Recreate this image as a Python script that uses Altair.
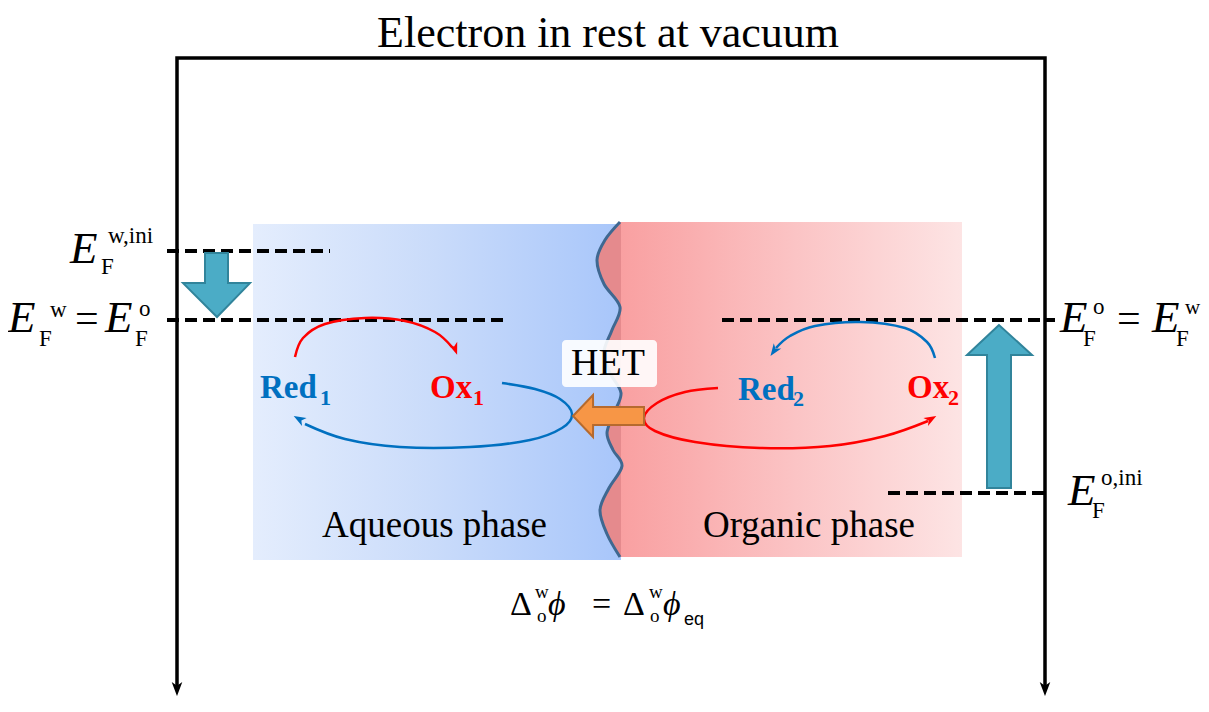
import altair as alt
import pandas as pd

# ---------------- data (diagram geometry in image pixels) ----------------
TITLE = "Electron in rest at vacuum"

# phase panels
AQ_BOX = [253, 621, 224, 560]          # x1, x2, y1, y2
OR_BOX = [621, 962, 222, 557]
AQ_COLORS = ["#e4edfd", "#c9dbfa", "#a8c6fa"]
OR_COLORS = ["#f9a0a1", "#fbc3c4", "#fde4e4"]

# liquid/liquid interface
WAVE_Y = [222, 240, 260, 284, 307, 330, 352, 373, 393, 413, 433, 450, 466, 488, 510, 534, 557]
WAVE_X = [620, 605, 597, 604, 620, 612, 604, 610, 621, 614, 607, 613, 622, 609, 600, 607, 620]

# Fermi levels (dashed)
LEVEL_Y = [251, 320, 320, 493]
LEVEL_X1 = [167, 167, 722, 888]
LEVEL_X2 = [330, 505, 1055, 1050]

# vacuum frame
FRAME_X = [177, 177, 1045, 1045]
FRAME_Y = [688, 58, 58, 688]

# teal level-shift arrows
DOWN_Y = [253, 283, 283.1, 317]
DOWN_XL = [205, 205, 183, 217]
DOWN_XR = [228, 228, 250, 217]
UP_Y = [325, 355, 355.1, 488]
UP_XL = [999, 967, 987, 987]
UP_XR = [999, 1032, 1011, 1011]

# HET arrow
HET_X = [573, 593, 593.1, 644]
HET_YT = [416, 395, 407, 407]
HET_YB = [416, 437, 425, 425]
HET_BOX = [562, 657, 340, 387]

# redox cycle curves
C1_X = [295, 303, 325, 365, 405, 435, 452]
C1_Y = [357, 338, 324, 318, 321, 332, 347]
C2_X = [502, 535, 560, 572, 562, 530, 470, 400, 345, 305]
C2_Y = [383, 389, 399, 414, 428, 440, 447, 447, 439, 424]
C3_X = [935, 927, 905, 860, 815, 790, 776]
C3_Y = [358, 342, 328, 322, 326, 336, 348]
C4_X = [718, 685, 657, 644, 655, 695, 760, 830, 885, 928]
C4_Y = [388, 392, 403, 418, 431, 442, 448, 446, 436, 421]
BLUE = "#0070c0"
RED = "#ff0000"

# arrow heads
HEAD_X = [455, 299, 774, 931, 177, 1045]
HEAD_Y = [349, 419, 351, 419, 689, 689]
HEAD_ANGLE = [160, 300, 215, 60, 180, 180]
HEAD_SIZE = [150, 150, 150, 150, 200, 200]
HEAD_COLOR = [RED, BLUE, BLUE, RED, "#000000", "#000000"]

# texts
IT_TEXT = ["E", "E", "E", "E", "E", "E", "ϕ", "ϕ"]
IT_X = [70, 8, 105, 1060, 1152, 1068, 548, 663]
IT_Y = [263, 332, 332, 332, 332, 505, 615, 615]
IT_SIZE = [45, 45, 45, 45, 45, 45, 34, 34]

REG_TEXT = ["w,ini", "F", "w", "F", "=", "o", "F", "o", "F", "=", "w", "F",
            "o,ini", "F", "Aqueous phase", "Organic phase",
            "Δ", "w", "o", "=", "Δ", "w", "o"]
REG_X = [108, 101, 50, 39, 75, 139, 135, 1093, 1083, 1117, 1185, 1176,
         1101, 1092, 322, 703, 510, 535, 537, 592, 623, 649, 650]
REG_Y = [243, 274, 317, 346, 332, 316, 346, 314, 346, 332, 314, 346,
         485, 518, 537, 537, 615, 598, 622, 615, 615, 598, 622]
REG_SIZE = [23, 23, 23, 23, 42, 23, 23, 23, 23, 42, 21, 23,
            23, 23, 37, 37, 34, 19, 19, 34, 34, 19, 19]

BOLD_TEXT = ["Red", "1", "Ox", "1", "Red", "2", "Ox", "2"]
BOLD_X = [260, 320, 430, 473, 738, 793, 907, 948]
BOLD_Y = [398, 405, 398, 405, 400, 406, 398, 405]
BOLD_SIZE = [33, 22, 33, 22, 33, 22, 33, 22]
BOLD_COLOR = [BLUE, BLUE, RED, RED, BLUE, BLUE, RED, RED]

CTR_TEXT = [TITLE, "HET"]
CTR_X = [608, 608]
CTR_Y = [47, 375]
CTR_SIZE = [44, 38]

SANS_TEXT = ["eq"]
SANS_X = [684]
SANS_Y = [625]
SANS_SIZE = [18]

# ---------------- chart ----------------
W, H = 1193, 688
X0, Y0 = 8, 8
xs = alt.Scale(domain=[X0, X0 + W], nice=False, zero=False)
ys = alt.Scale(domain=[Y0, Y0 + H], nice=False, zero=False, reverse=True)
SERIF = "Liberation Serif"


def X(f="x"):
    return alt.X(f + ":Q", scale=xs, axis=None)


def Y(f="y"):
    return alt.Y(f + ":Q", scale=ys, axis=None)


def grad(colors):
    n = len(colors) - 1
    return alt.Gradient(
        gradient="linear",
        stops=[alt.GradientStop(color=c, offset=i / n) for i, c in enumerate(colors)],
        x1=0, x2=1, y1=0, y2=0,
    )


def box_chart(b, **mark):
    d = pd.DataFrame({"x": [b[0]], "x2": [b[1]], "y": [b[2]], "y2": [b[3]]})
    return alt.Chart(d).mark_rect(**mark).encode(
        x=X(), x2="x2:Q", y=Y(), y2="y2:Q")


def path_chart(xv, yv, **mark):
    d = pd.DataFrame({"x": xv, "y": yv, "i": list(range(len(xv)))})
    return alt.Chart(d).mark_line(**mark).encode(x=X(), y=Y(), order="i:Q")


def text_chart(t, xv, yv, sv, cv, **mark):
    d = pd.DataFrame({"t": t, "x": xv, "y": yv, "s": sv, "c": cv})
    return alt.Chart(d).mark_text(**mark).encode(
        x=X(), y=Y(), text="t:N",
        size=alt.Size("s:Q", scale=None),
        color=alt.Color("c:N", scale=None))


layers = []
layers.append(box_chart(AQ_BOX, color=grad(AQ_COLORS)))
layers.append(box_chart(OR_BOX, color=grad(OR_COLORS)))

strip = pd.DataFrame({"x": WAVE_X, "x2": [621] * len(WAVE_X), "y": WAVE_Y})
layers.append(alt.Chart(strip).mark_area(
    orient="horizontal", interpolate="cardinal", color="#e58a8d").encode(
    y=Y(), x=X(), x2="x2:Q"))
layers.append(path_chart(WAVE_X, WAVE_Y, interpolate="cardinal",
                         color="#3f6891", strokeWidth=3))

layers.append(box_chart(HET_BOX, color="white", opacity=0.9, cornerRadius=4))

lv = pd.DataFrame({"x": LEVEL_X1, "x2": LEVEL_X2, "y": LEVEL_Y})
layers.append(alt.Chart(lv).mark_rule(
    color="black", strokeWidth=4, strokeDash=[12, 6]).encode(
    x=X(), x2="x2:Q", y=Y()))

layers.append(path_chart(FRAME_X, FRAME_Y, color="black", strokeWidth=3.5,
                         strokeJoin="miter"))

dn = pd.DataFrame({"y": DOWN_Y, "x": DOWN_XL, "x2": DOWN_XR})
layers.append(alt.Chart(dn).mark_area(
    orient="horizontal", fill="#4bacc6", stroke="#31849b", strokeWidth=2,
    fillOpacity=1).encode(y=Y(), x=X(), x2="x2:Q"))
up = pd.DataFrame({"y": UP_Y, "x": UP_XL, "x2": UP_XR})
layers.append(alt.Chart(up).mark_area(
    orient="horizontal", fill="#4bacc6", stroke="#31849b", strokeWidth=2,
    fillOpacity=1).encode(y=Y(), x=X(), x2="x2:Q"))

for cx, cy, col in [(C1_X, C1_Y, RED), (C2_X, C2_Y, BLUE),
                    (C3_X, C3_Y, BLUE), (C4_X, C4_Y, RED)]:
    layers.append(path_chart(cx, cy, interpolate="cardinal", color=col,
                             strokeWidth=2.5))

het = pd.DataFrame({"x": HET_X, "y": HET_YT, "y2": HET_YB})
layers.append(alt.Chart(het).mark_area(
    orient="vertical", fill="#f79646", stroke="#b66a2e", strokeWidth=2,
    fillOpacity=1).encode(x=X(), y=Y(), y2="y2:Q"))

STEALTH = "M0,-1L0.75,1L0,0.45L-0.75,1Z"
hd = pd.DataFrame({"x": HEAD_X, "y": HEAD_Y, "a": HEAD_ANGLE,
                   "s": HEAD_SIZE, "c": HEAD_COLOR})
layers.append(alt.Chart(hd).mark_point(
    shape=STEALTH, filled=True, opacity=1, strokeWidth=0).encode(
    x=X(), y=Y(), angle=alt.Angle("a:Q", scale=None),
    size=alt.Size("s:Q", scale=None), color=alt.Color("c:N", scale=None)))

layers.append(text_chart(IT_TEXT, IT_X, IT_Y, IT_SIZE, ["#000000"] * len(IT_TEXT),
                         align="left", baseline="alphabetic", font=SERIF,
                         fontStyle="italic"))
layers.append(text_chart(REG_TEXT, REG_X, REG_Y, REG_SIZE, ["#000000"] * len(REG_TEXT),
                         align="left", baseline="alphabetic", font=SERIF))
layers.append(text_chart(BOLD_TEXT, BOLD_X, BOLD_Y, BOLD_SIZE, BOLD_COLOR,
                         align="left", baseline="alphabetic", font=SERIF,
                         fontWeight="bold"))
layers.append(text_chart(CTR_TEXT, CTR_X, CTR_Y, CTR_SIZE, ["#000000"] * len(CTR_TEXT),
                         align="center", baseline="alphabetic", font=SERIF))
layers.append(text_chart(SANS_TEXT, SANS_X, SANS_Y, SANS_SIZE, ["#000000"],
                         align="left", baseline="alphabetic",
                         font="Liberation Sans"))

chart = alt.layer(*layers).properties(
    width=W, height=H, padding=0,
    autosize=alt.AutoSizeParams(type="none"),
    background="white",
).configure_view(stroke=None)

chart.save("out.html", embed_options={"renderer": "svg", "actions": False})
